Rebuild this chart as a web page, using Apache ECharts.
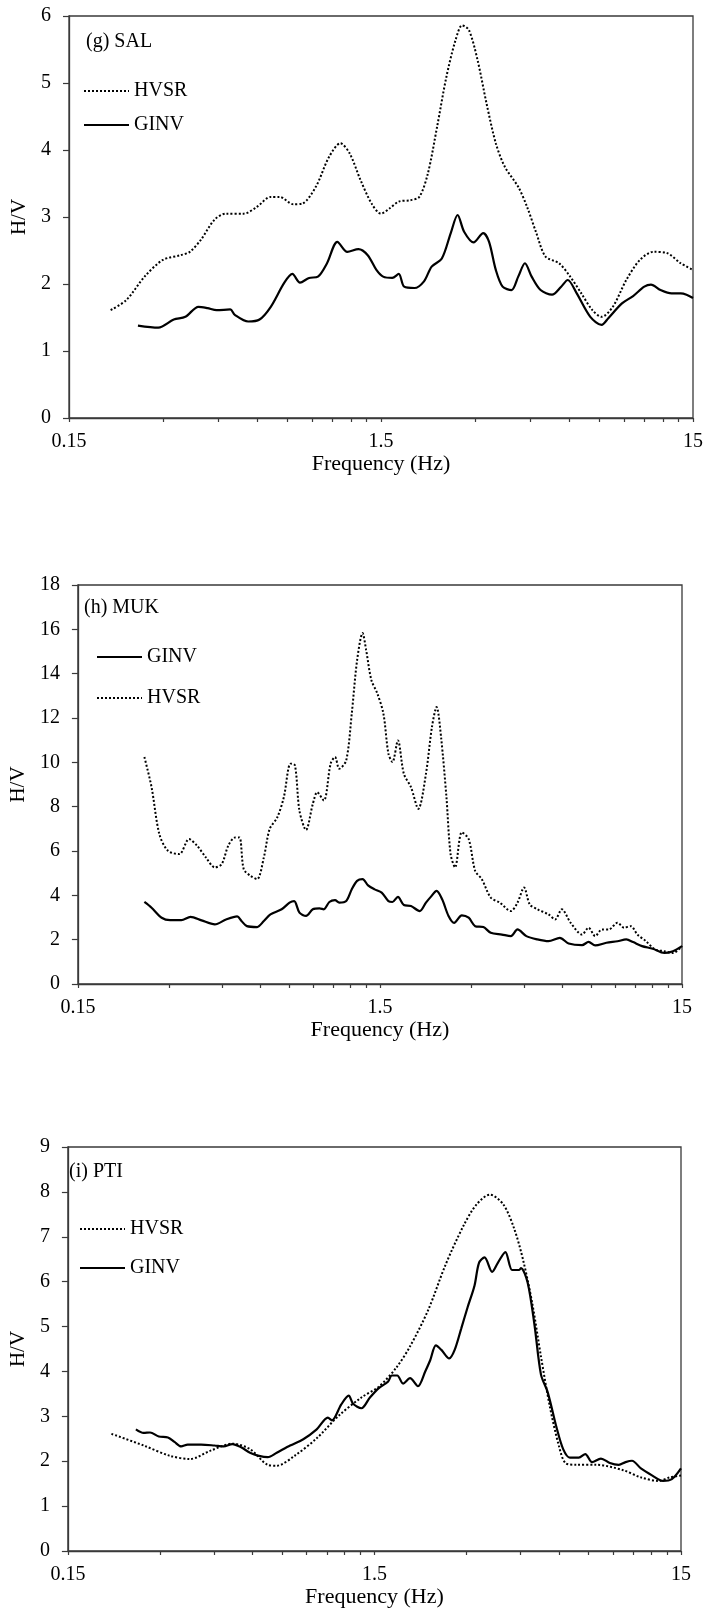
<!DOCTYPE html>
<html><head><meta charset="utf-8">
<script src="https://cdn.jsdelivr.net/npm/echarts@6/dist/echarts.min.js"></script>
<style>html,body{margin:0;padding:0;background:#fff}#c{width:707px;height:1610px}</style>
</head><body><div id="c"></div>
<script>
// ---------- data ----------
const xLabelValues = [0.15, 1.5, 15];
const xTickValues = [0.15,0.3,0.45,0.6,0.75,0.9,1.05,1.2,1.35,1.5,3,4.5,6,7.5,9,10.5,12,13.5,15];
const panelTitles = ['(g) SAL', '(h) MUK', '(i) PTI'];
const yMax = [6, 18, 9];
const yStep = [1, 2, 1];

const salHvsrF = [0.204,0.229,0.262,0.3,0.342,0.366,0.397,0.439,0.477,0.545,0.6,0.665,0.71,0.785,0.839,0.927,1.023,1.112,1.19,1.29,1.40,1.5,1.60,1.71,1.86,1.99,2.12,2.27,2.43,2.60,2.73,2.87,3.06,3.27,3.50,3.74,4.13,4.41,4.72,5.05,5.58,6.06,6.58,7.14,7.64,8.30,9.17,10.14,11.2,12.4,13.7,15];
const salHvsrV = [1.61,1.76,2.11,2.36,2.43,2.48,2.66,2.96,3.05,3.05,3.15,3.30,3.30,3.19,3.20,3.45,3.90,4.10,3.95,3.55,3.20,3.05,3.13,3.23,3.25,3.30,3.65,4.35,5.09,5.64,5.86,5.79,5.34,4.69,4.10,3.75,3.45,3.15,2.76,2.41,2.31,2.11,1.86,1.61,1.51,1.66,2.06,2.36,2.48,2.46,2.31,2.21];
const salGinvF = [0.2495,0.29,0.325,0.354,0.390,0.417,0.446,0.493,0.510,0.563,0.612,0.665,0.735,0.780,0.825,0.882,0.942,1.007,1.087,1.17,1.27,1.36,1.45,1.524,1.63,1.71,1.78,1.92,2.06,2.18,2.35,2.51,2.64,2.77,2.97,3.19,3.33,3.50,3.68,3.93,4.13,4.34,4.56,4.87,5.30,5.67,5.95,6.36,7.03,7.64,8.03,8.88,9.64,10.47,11.0,11.8,12.8,13.7,14.3,15];
const salGinvV = [1.38,1.35,1.47,1.51,1.66,1.64,1.61,1.62,1.54,1.44,1.47,1.66,2.02,2.15,2.02,2.09,2.11,2.31,2.63,2.48,2.52,2.43,2.21,2.11,2.09,2.15,1.96,1.94,2.04,2.26,2.38,2.76,3.03,2.78,2.62,2.76,2.63,2.21,1.96,1.91,2.11,2.31,2.11,1.91,1.84,1.96,2.06,1.86,1.51,1.39,1.49,1.71,1.82,1.96,1.99,1.91,1.86,1.86,1.84,1.79];

const mukHvsrF = [0.249,0.263,0.279,0.298,0.325,0.350,0.372,0.398,0.426,0.449,0.472,0.497,0.514,0.531,0.559,0.588,0.619,0.647,0.686,0.721,0.759,0.785,0.812,0.854,0.899,0.930,0.978,1.03,1.065,1.10,1.16,1.21,1.26,1.314,1.35,1.405,1.47,1.54,1.60,1.65,1.72,1.80,1.90,2.01,2.13,2.23,2.31,2.39,2.49,2.57,2.66,2.80,2.95,3.10,3.26,3.49,3.74,4.07,4.28,4.50,4.70,4.98,5.42,5.70,6.00,6.42,7.0,7.36,7.74,8.15,8.58,9.17,9.65,10.15,10.68,11.4,12.2,13.1,14.0,15];
const mukHvsrV = [10.24,8.88,6.77,6.01,5.86,6.54,6.24,5.71,5.26,5.41,6.24,6.61,6.61,5.18,4.88,4.73,5.71,6.99,7.52,8.43,9.94,9.86,7.82,6.95,8.12,8.65,8.28,9.94,10.24,9.71,10.09,12.2,14.6,15.83,15.07,13.71,13.11,12.2,10.39,10.01,10.99,9.48,8.88,7.90,9.48,11.60,12.50,11.14,8.43,5.86,5.26,6.84,6.54,5.10,4.73,3.90,3.67,3.29,3.67,4.35,3.59,3.37,3.14,2.91,3.37,2.76,2.23,2.54,2.16,2.46,2.46,2.76,2.54,2.61,2.23,1.93,1.56,1.48,1.40,1.71];
const mukGinvF = [0.249,0.263,0.284,0.303,0.330,0.354,0.385,0.426,0.464,0.505,0.522,0.544,0.588,0.619,0.651,0.709,0.753,0.780,0.812,0.854,0.899,0.946,0.978,1.02,1.065,1.10,1.16,1.21,1.26,1.314,1.37,1.44,1.52,1.60,1.65,1.72,1.80,1.90,2.03,2.13,2.21,2.31,2.41,2.53,2.64,2.80,2.95,3.10,3.30,3.49,3.80,4.07,4.28,4.58,4.98,5.42,5.91,6.32,7.0,7.36,7.74,8.43,9.17,9.81,10.33,11.06,12.0,13.1,14.0,15];
const mukGinvV = [3.70,3.44,2.99,2.88,2.88,3.03,2.87,2.69,2.91,3.05,2.84,2.61,2.57,2.84,3.14,3.37,3.67,3.74,3.22,3.07,3.37,3.41,3.37,3.70,3.78,3.67,3.74,4.27,4.65,4.73,4.45,4.27,4.12,3.74,3.70,3.93,3.56,3.52,3.29,3.67,3.93,4.20,3.82,3.07,2.76,3.10,2.99,2.61,2.57,2.31,2.23,2.16,2.46,2.16,2.01,1.93,2.08,1.83,1.75,1.90,1.74,1.86,1.93,2.01,1.89,1.71,1.59,1.40,1.48,1.71];

const ptiHvsrF = [0.208,0.265,0.323,0.376,0.436,0.516,0.589,0.673,0.720,0.823,0.972,1.149,1.36,1.55,1.77,1.96,2.24,2.56,2.93,3.23,3.57,3.95,4.29,4.59,4.91,5.24,5.60,5.99,6.30,6.84,7.95,9.72,11.1,12.7,13.8,15];
const ptiHvsrV = [2.61,2.35,2.12,2.05,2.23,2.39,2.27,1.92,1.90,2.12,2.51,3.02,3.42,3.66,4.09,4.56,5.35,6.38,7.25,7.72,7.94,7.72,7.17,6.46,5.51,4.33,3.22,2.35,1.96,1.92,1.92,1.80,1.64,1.56,1.64,1.68];
const ptiGinvF = [0.250,0.265,0.278,0.297,0.318,0.334,0.351,0.369,0.408,0.451,0.483,0.516,0.551,0.589,0.630,0.673,0.720,0.796,0.879,0.972,1.057,1.09,1.168,1.236,1.278,1.36,1.45,1.55,1.66,1.71,1.78,1.86,1.96,2.08,2.20,2.28,2.38,2.48,2.63,2.74,2.88,3.02,3.18,3.29,3.43,3.63,3.79,4.01,4.22,4.44,4.51,4.74,4.99,5.24,5.51,5.89,6.19,6.51,6.96,7.31,7.69,8.22,8.79,9.40,9.89,10.38,11.1,12.1,13.1,14.0,15];
const ptiGinvV = [2.71,2.63,2.64,2.55,2.53,2.43,2.33,2.37,2.37,2.35,2.33,2.38,2.31,2.19,2.12,2.09,2.19,2.35,2.49,2.71,2.97,2.91,3.26,3.46,3.28,3.18,3.42,3.63,3.77,3.91,3.91,3.73,3.85,3.67,4.01,4.25,4.58,4.48,4.29,4.48,4.96,5.43,5.91,6.42,6.54,6.22,6.42,6.66,6.26,6.26,6.30,5.98,5.04,3.93,3.54,2.75,2.27,2.08,2.08,2.16,1.98,2.06,1.96,1.92,1.98,2.01,1.84,1.68,1.56,1.60,1.84];

const legendOrder = [['HVSR','GINV'], ['GINV','HVSR'], ['HVSR','GINV']];

// ---------- layout / style ----------
const FONT = '"Liberation Serif", "Times New Roman", serif';
const AX = '#3a3a3a';
const grids = [
  {left: 69, top: 16, width: 624, height: 402},
  {left: 69, top: 585, width: 613, height: 399},
  {left: 59, top: 1147, width: 622, height: 404}
];
const yNameGap = [37, 37, 27];
const titlePos = [{left: 86, top: 32}, {left: 84, top: 598}, {left: 69, top: 1162}];
const legendPos = [{left: 83, top: 81, gap: 14}, {left: 96, top: 647, gap: 21}, {left: 79, top: 1219, gap: 19}];

const pairs = (F, V) => F.map((f, i) => [f, V[i]]);
const seriesData = [
  {HVSR: pairs(salHvsrF, salHvsrV), GINV: pairs(salGinvF, salGinvV)},
  {HVSR: pairs(mukHvsrF, mukHvsrV), GINV: pairs(mukGinvF, mukGinvV)},
  {HVSR: pairs(ptiHvsrF, ptiHvsrV), GINV: pairs(ptiGinvF, ptiGinvV)}
];

const chart = echarts.init(document.getElementById('c'), null, {renderer: 'canvas'});
const xAxis = [], yAxis = [], series = [], title = [], legend = [];
grids.forEach((g, i) => {
  g.show = true; g.borderColor = AX; g.borderWidth = 1.3; g.containLabel = false;
  xAxis.push({
    type: 'log', logBase: 10, gridIndex: i, min: 0.15, max: 15,
    name: 'Frequency (Hz)', nameLocation: 'middle', nameGap: 32,
    nameTextStyle: {fontFamily: FONT, fontSize: 22, color: '#000'},
    axisLine: {show: true, lineStyle: {color: AX, width: 1.3}},
    axisTick: {show: true, inside: false, length: 4, lineStyle: {color: AX, width: 1.2}, customValues: xTickValues},
    axisLabel: {show: true, margin: 14, fontFamily: FONT, fontSize: 20, color: '#000',
      customValues: xLabelValues, formatter: v => String(+(+v).toPrecision(3))},
    splitLine: {show: false}, minorTick: {show: false}
  });
  yAxis.push({
    type: 'value', gridIndex: i, min: 0, max: yMax[i], interval: yStep[i],
    name: 'H/V', nameLocation: 'middle', nameGap: yNameGap[i], nameRotate: 90,
    nameTextStyle: {fontFamily: FONT, fontSize: 21, color: '#000'},
    axisLine: {show: true, lineStyle: {color: AX, width: 1.3}},
    axisTick: {show: true, inside: false, length: 6, lineStyle: {color: AX, width: 1.2}},
    axisLabel: {margin: 18, fontFamily: FONT, fontSize: 20, color: '#000'},
    splitLine: {show: false}
  });
  ['HVSR', 'GINV'].forEach(name => {
    const dotted = name === 'HVSR';
    series.push({
      type: 'line', name: name, xAxisIndex: i, yAxisIndex: i,
      data: seriesData[i][name], symbol: 'none', smooth: 0.3,
      lineStyle: {color: '#000', width: dotted ? 2 : 2.2, type: dotted ? [2, 2] : 'solid'},
      itemStyle: {color: '#000'}, z: dotted ? 2 : 3
    });
  });
  title.push({text: panelTitles[i], left: titlePos[i].left, top: titlePos[i].top, padding: 0,
    textStyle: {fontFamily: FONT, fontSize: 20, fontWeight: 'normal', color: '#000'}});
  legend.push({
    data: legendOrder[i], orient: 'vertical', left: legendPos[i].left, top: legendPos[i].top,
    itemWidth: 45, itemHeight: 20, itemGap: legendPos[i].gap, padding: 0,
    selectedMode: false,
    itemStyle: {opacity: 0},
    textStyle: {fontFamily: FONT, fontSize: 20, color: '#000'}
  });
});

chart.setOption({
  animation: false,
  backgroundColor: '#fff',
  grid: grids, xAxis, yAxis, series, title, legend
});
</script>
</body></html>
